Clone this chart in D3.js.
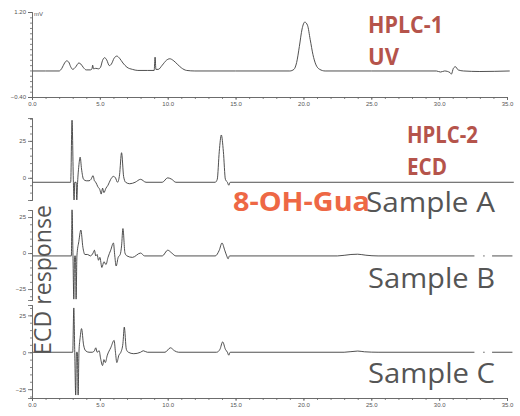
<!DOCTYPE html>
<html lang="en">
<head>
	<meta charset="UTF-8"/>
	<title>HPLC-UV and HPLC-ECD chromatograms</title>
	<script src="https://d3js.org/d3.v7.min.js"></script>
	<style>
		body { margin: 0; background: #fff; }
		.trace { fill: none; stroke: #3c3c3c; stroke-width: 0.9; }
		.axis path, .axis line { stroke: #666; stroke-width: 0.8; }
		.axis text { font-family: "Liberation Sans", Arial, sans-serif; font-size: 6px; fill: #555; }
		.big { font-family: "Open Sans", sans-serif; }
	</style>
</head>
<body>
	<div id="chart"></div>
	<script>
	var w = 520;
	var h = 416;

	// retention time ticks (min)
	var timeTicks = [0, 5, 10, 15, 20, 25, 30, 35];

	// HPLC-1 UV trace: [time, mV]
	var uvTrace = [
		[0,0.09],[1,0.09],[2.0,0.09],[2.2,0.14],[2.4,0.24],[2.55,0.28],[2.7,0.26],[2.85,0.17],[3.0,0.12],
		[3.2,0.16],[3.45,0.24],[3.6,0.22],[3.8,0.15],[4.0,0.11],[4.3,0.11],[4.42,0.13],[4.47,0.20],[4.53,0.13],
		[4.7,0.14],[4.9,0.13],[5.05,0.16],[5.2,0.29],[5.35,0.34],[5.5,0.30],[5.7,0.19],[5.85,0.22],[6.05,0.33],
		[6.25,0.37],[6.45,0.33],[6.7,0.24],[7.0,0.16],[7.4,0.12],[7.8,0.10],[8.5,0.10],[9.0,0.10],[9.07,0.35],
		[9.13,0.12],[9.3,0.12],[9.6,0.20],[9.9,0.29],[10.15,0.32],[10.4,0.29],[10.7,0.22],[11.0,0.15],[11.4,0.10],
		[12,0.09],[15,0.09],[19.0,0.09],[19.3,0.12],[19.5,0.25],[19.7,0.55],[19.9,0.88],[20.1,1.01],[20.3,0.95],
		[20.5,0.68],[20.7,0.40],[20.9,0.22],[21.2,0.12],[21.6,0.09],[25,0.09],[29.8,0.09],[30.1,0.07],[30.4,0.09],
		[30.8,0.06],[30.9,0.03],[31.05,0.14],[31.2,0.17],[31.4,0.11],[31.8,0.09],[33,0.08],[35.2,0.09]
	];
	var uvTicks = [-0.40, 1.20];

	// HPLC-2 ECD traces: [time, response]
	var ecdTrace1 = [
		[0,-3],[2.85,-3],[2.95,39],[3.05,-3],[3.1,-15],[3.15,-3],[3.25,-3],[3.3,-15],[3.36,-3],[3.45,8],[3.55,14],
		[3.65,6],[3.8,-1],[4.0,-2],[4.2,-2],[4.35,-1],[4.5,1.5],[4.6,-2],[4.7,-3],[4.85,-6],[5.0,-8],[5.1,-11],
		[5.2,-7],[5.3,-10],[5.45,-7],[5.6,-5],[5.8,-1],[6.0,1],[6.15,0],[6.3,-3],[6.45,2],[6.6,17],[6.75,1],
		[6.9,-3],[7.2,-4],[7.6,-3],[8.0,-1],[8.4,-3],[9.6,-3],[10.0,0],[10.3,-1],[10.6,-3],[13.5,-3],[13.65,-1],
		[13.8,18],[13.95,29],[14.1,18],[14.25,-1],[14.4,-3],[14.5,-5],[14.6,-3],[35.5,-3]
	];
	var ecdTrace2 = [
		[0,-2],[2.9,-2],[2.95,30],[3.02,-2],[3.08,-32],[3.14,-2],[3.2,-2],[3.25,-32],[3.31,-2],[3.45,8],[3.6,16],
		[3.75,4],[3.9,-1],[4.1,-1],[4.3,-2],[4.5,0],[4.6,2],[4.7,-2],[4.8,-1],[4.9,-5],[5.0,-3],[5.15,-10],[5.3,-6],
		[5.45,-8],[5.6,-3],[5.8,2],[6.0,7],[6.1,-2],[6.2,-9],[6.35,-3],[6.5,-1],[6.6,5],[6.7,17],[6.85,0],[7.0,-2],
		[7.4,-3],[8.0,0],[8.3,-2],[9.6,-2],[10.0,2],[10.3,0],[10.6,-2],[13.5,-2],[13.8,2],[14.0,7],[14.2,2],
		[14.35,-2],[14.45,-4],[14.55,-2],[22.5,-2],[23.5,-1],[24.0,-0.8],[24.6,-1.5],[25.5,-2],[32.6,-2],[32.7,null],
		[33.25,-2],[33.35,-2],[33.4,null],[33.9,-2],[35.4,-2]
	];
	var ecdTrace3 = [
		[0,0],[3.0,0],[3.08,30],[3.15,0],[3.22,-29],[3.28,0],[3.34,0],[3.4,-29],[3.46,0],[3.55,10],[3.65,16],
		[3.8,5],[3.95,1],[4.2,0],[4.45,0],[4.6,1],[4.7,3],[4.8,0],[4.95,1],[5.05,-4],[5.2,-9],[5.3,-5],[5.4,-7],
		[5.55,-2],[5.8,3],[6.05,8],[6.15,0],[6.25,-7],[6.4,-2],[6.55,0],[6.7,6],[6.8,17],[6.95,2],[7.1,0],
		[7.5,-1],[8.0,0],[8.2,1],[8.5,0],[9.8,0],[10.2,3],[10.5,1],[10.8,0],[13.6,0],[13.85,2],[14.05,7],
		[14.25,2],[14.4,0],[14.5,-2],[14.6,0],[23,0],[24,0.8],[24.5,0.3],[25.5,0],[32.6,0],[32.7,null],
		[33.25,0],[33.35,0],[33.4,null],[33.9,0],[35.4,0]
	];
	var ecdTicks1 = [0, 25];
	var ecdTicks = [-25, 0, 25];

	var svg = d3.select("#chart")
				.append("svg")
				.attr("width", w)
				.attr("height", h);

	var xScale = d3.scaleLinear()
				.domain([0, 35])
				.range([32, 507]);

	// panel layout
	var panels = [
		{data: uvTrace, domain: [-0.40, 1.20], range: [97, 12], ticks: uvTicks, fmt: d3.format(".2f"), minor: d3.range(-0.4, 1.21, 0.1)},
		{data: ecdTrace1, domain: [-15, 40.5], range: [200, 118], ticks: ecdTicks1, fmt: d3.format("d"), minor: d3.range(-15, 41, 5)},
		{data: ecdTrace2, domain: [-32.6, 29.9], range: [300, 210], ticks: ecdTicks, fmt: d3.format("d"), minor: d3.range(-30, 30, 5)},
		{data: ecdTrace3, domain: [-31, 32], range: [398, 305], ticks: ecdTicks, fmt: d3.format("d"), minor: d3.range(-30, 32, 5)}
	];

	panels.forEach(function(p){
		var yScale = d3.scaleLinear().domain(p.domain).range(p.range);

		var line = d3.line()
					.defined(function(d){ return d[1] !== null; })
					.x(function(d){ return xScale(d[0]); })
					.y(function(d){ return yScale(d[1]); })
					.curve(d3.curveMonotoneX);

		svg.append("path")
			.datum(p.data)
			.attr("class", "trace")
			.attr("d", line);

		svg.append("g")
			.attr("class", "axis")
			.attr("transform", "translate(32,0)")
			.call(d3.axisLeft(yScale).tickValues(p.minor).tickSize(2).tickFormat(""));

		svg.append("g")
			.attr("class", "axis")
			.attr("transform", "translate(32,0)")
			.call(d3.axisLeft(yScale).tickValues(p.ticks).tickSize(4).tickPadding(2).tickFormat(p.fmt));
	});

	// time axes (top UV panel and bottom)
	[97, 398].forEach(function(y){
		svg.append("g")
			.attr("class", "axis")
			.attr("transform", "translate(0," + y + ")")
			.call(d3.axisBottom(xScale).tickValues(d3.range(0, 36, 1)).tickSize(2).tickFormat(""));
		svg.append("g")
			.attr("class", "axis")
			.attr("transform", "translate(0," + y + ")")
			.call(d3.axisBottom(xScale).tickValues(timeTicks).tickSize(3).tickPadding(2).tickFormat(d3.format(".1f")));
	});

	svg.append("text")
		.attr("x", 34).attr("y", 16)
		.attr("font-family", "Liberation Sans, Arial, sans-serif")
		.attr("font-size", 6).attr("fill", "#555")
		.text("mV");

	function label(txt, x, y, size, weight, color, len){
		svg.append("text")
			.attr("class", "big")
			.attr("x", x).attr("y", y)
			.attr("font-size", size)
			.attr("font-weight", weight)
			.attr("fill", color)
			.attr("textLength", len)
			.attr("lengthAdjust", "spacingAndGlyphs")
			.text(txt);
	}

	label("HPLC-1", 368, 33, 23, "bold", "#b5544b", 75);
	label("UV", 368, 65, 24, "bold", "#b5544b", 31);
	label("HPLC-2", 407, 143, 23, "bold", "#b5544b", 71);
	label("ECD", 407, 175, 23, "bold", "#b5544b", 40);
	label("8-OH-Gua", 233, 211, 26, "bold", "#ee6845", 137);
	label("Sample A", 366, 212, 28, "normal", "#555", 129);
	label("Sample B", 368, 288, 28, "normal", "#555", 127);
	label("Sample C", 368, 383, 28, "normal", "#555", 127);

	svg.append("text")
		.attr("class", "big")
		.attr("transform", "translate(51,355) rotate(-90)")
		.attr("font-size", 23)
		.attr("fill", "#555")
		.attr("textLength", 150)
		.attr("lengthAdjust", "spacingAndGlyphs")
		.text("ECD response");
	</script>
</body>
</html>
